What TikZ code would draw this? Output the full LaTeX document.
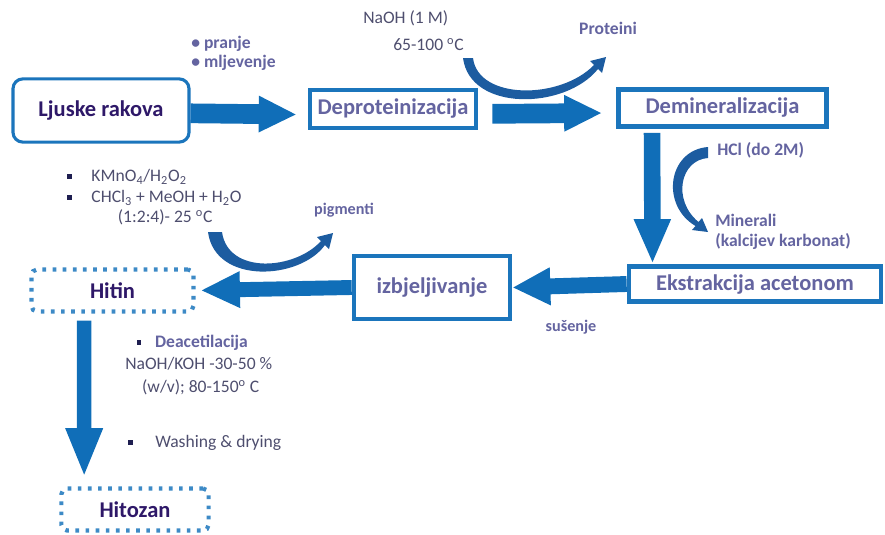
\documentclass[tikz,border=0pt]{standalone}
\usepackage{fontspec}
\setmainfont{Carlito}
\usetikzlibrary{arrows.meta, positioning}
\definecolor{boxblue}{RGB}{27,117,188}
\definecolor{arrowblue}{RGB}{16,110,184}
\definecolor{curveblue}{RGB}{28,92,160}
\definecolor{darkpurple}{RGB}{46,24,104}
\definecolor{labelpurple}{RGB}{100,100,160}
\definecolor{chemgray}{RGB}{78,78,110}
\definecolor{bulletnavy}{RGB}{30,30,80}
\tikzstyle{startbox} = [rectangle, rounded corners=7pt, minimum width=4.4cm, minimum height=1.58cm, line width=2.2pt, draw=boxblue, text=darkpurple, font=\fontsize{16}{19}\selectfont\bfseries]
\tikzstyle{stepbox} = [rectangle, line width=3.3pt, draw=boxblue, text=labelpurple, font=\fontsize{16}{19}\selectfont\bfseries]
\tikzstyle{productbox} = [rectangle, rounded corners=4pt, minimum height=1.05cm, line width=3pt, draw=boxblue!85, dash pattern=on 2.6pt off 4.6pt, text=darkpurple, font=\fontsize{16}{19}\selectfont\bfseries]
\tikzstyle{label} = [text=labelpurple, font=\fontsize{12.5}{15}\selectfont\bfseries, inner sep=0pt]
\tikzstyle{chem} = [text=chemgray, font=\fontsize{12.5}{15}\selectfont, inner sep=0pt]
\tikzstyle{flowarrow} = [line width=14pt, draw=arrowblue, -{Triangle[length=27pt, width=24pt]}]
\tikzstyle{thinflow} = [line width=11.3pt, draw=arrowblue, -{Triangle[length=28pt, width=24pt]}]
\tikzstyle{curvedarrow} = [fill=curveblue]
\newcommand{\sqbullet}{\textcolor{bulletnavy}{\rule[2pt]{3.2pt}{3.2pt}}}

\begin{document}
\begin{tikzpicture}[x=0.025cm, y=-0.025cm]
  \useasboundingbox (0,0) rectangle (885,534);

  % Top row
  \node (ljuske) at (101,110.5) [startbox] {Ljuske rakova};
  \node (deprot) at (393,109) [stepbox, minimum width=4.15cm, minimum height=0.95cm] {Deproteinizacija};
  \node (demin) at (722.5,108) [stepbox, minimum width=5.2cm, minimum height=0.92cm] {Demineralizacija};

  % Middle row
  \node (ekstr) at (755,284) [stepbox, minimum width=6.3cm, minimum height=0.88cm] {Ekstrakcija acetonom};
  \node (izbj) at (432,287.5) [stepbox, minimum width=3.9cm, minimum height=1.58cm] {izbjeljivanje};
  \node (hitin) at (112.5,290.5) [productbox, minimum width=4.05cm] {Hitin};

  % Bottom
  \node (hitozan) at (135,509.5) [productbox, minimum width=3.68cm] {Hitozan};

  % Conditions and side products
  \node (prep) at (191,53) [label, anchor=west, align=left] {\textbullet\ pranje\\[-1.5pt]\textbullet\ mljevenje};
  \node (naoh) at (363,18) [chem, anchor=west] {NaOH (1 M)};
  \node (naohtemp) at (393,45) [chem, anchor=west] {65-100 \textsuperscript{o}C};
  \node (proteini) at (608,28) [label] {Proteini};
  \node (hcl) at (717,150) [label, anchor=west] {HCl (do 2M)};
  \node (minerali) at (715,232) [label, anchor=west, align=left] {Minerali\\[-1pt](kalcijev karbonat)};
  \node (susenje) at (571,327) [label, font=\fontsize{11.5}{14}\selectfont\bfseries] {sušenje};
  \node (pigmenti) at (344,210) [label, font=\fontsize{11.5}{14}\selectfont\bfseries] {pigmenti};
  \node (bleach) at (67,197) [chem, anchor=west, align=left] {\sqbullet\hspace{14pt}KMnO\textsubscript{4}/H\textsubscript{2}O\textsubscript{2}\\\sqbullet\hspace{14pt}CHCl\textsubscript{3} + MeOH + H\textsubscript{2}O\\[-1pt]\hspace{36pt}(1:2:4)- 25 \textsuperscript{o}C};
  \node (deacet) at (125,365) [chem, anchor=west, align=left] {\hspace{8pt}\sqbullet\hspace{10pt}\textcolor{labelpurple}{\bfseries Deacetilacija}\\[1pt]NaOH/KOH -30-50 \%\\[1pt]\hspace{12pt}(w/v); 80-150\textsuperscript{o} C};
  \node (washing) at (128,443) [chem, anchor=west] {\sqbullet\hspace{16pt}Washing \& drying};

  % Main flow
  \draw[flowarrow, shorten >=7.8pt] ([yshift=-2pt]ljuske.east) -- ([yshift=-4pt]deprot.west);
  \draw[flowarrow, shorten <=10pt, shorten >=10pt] ([yshift=-3.5pt]deprot.east) -- ([yshift=-3.5pt]demin.west);
  \draw[thinflow, line width=11.8pt, -{Triangle[length=32pt, width=24pt]}, shorten <=3pt] ([xshift=25.5pt]demin.south west) -- ([xshift=18.4pt]ekstr.north west);
  \draw[thinflow, -{Triangle[length=27pt, width=25pt]}] (ekstr.west) -- (izbj.east);
  \draw[thinflow, line width=10.6pt, shorten >=3.5pt] (izbj.west) -- (hitin.east);
  \draw[thinflow, line width=10.3pt, -{Triangle[length=35pt, width=24pt]}, shorten <=5pt, shorten >=6.4pt] ([xshift=39pt]hitin.south west) -- ([xshift=17.7pt]hitozan.north west);

  % Side arrows
  \fill[curvedarrow] (463,58) .. controls (470,112) and (565,110) .. (598,69) -- (602,73) -- (606,57) -- (590,61) -- (594,65) .. controls (560,100) and (478,100) .. (473,58) -- cycle;
  \fill[curvedarrow] (708,147) .. controls (668,150) and (660,205) .. (695.5,226) -- (692,230) -- (708,232) -- (702,218) -- (698.5,222) .. controls (672,200) and (680,160) .. (708,158) -- cycle;
  \fill[curvedarrow] (208,232) .. controls (215,285) and (300,280) .. (325,245) -- (329,249) -- (333,233) -- (317,237) -- (321,241) .. controls (295,270) and (228,275) .. (222,232) -- cycle;

\end{tikzpicture}
\end{document}
